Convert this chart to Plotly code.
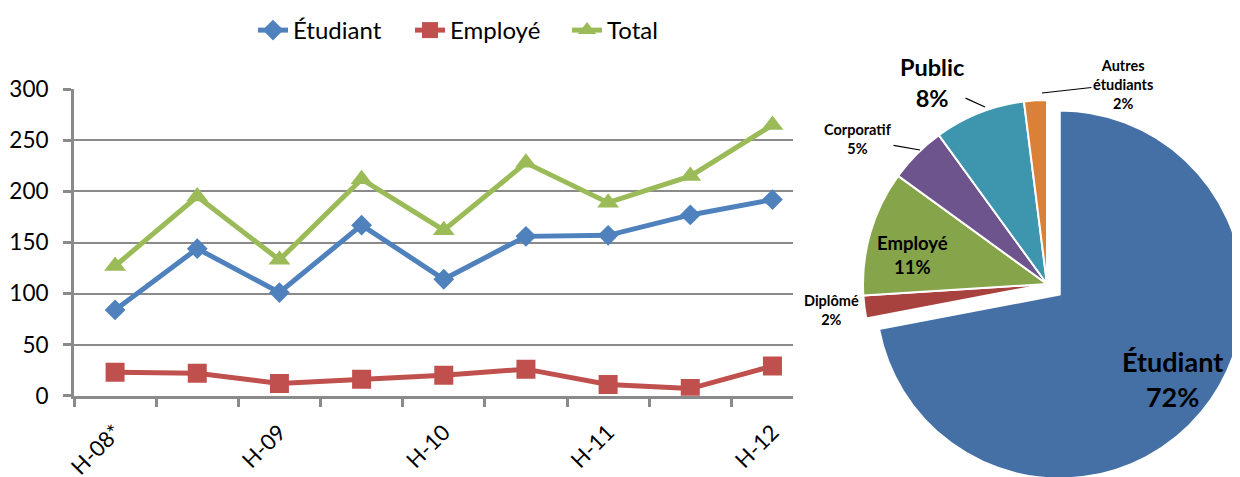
import plotly.graph_objects as go

# ---------------- data ----------------
tick_labels = ["H-08*", "", "H-09", "", "H-10", "", "H-11", "", "H-12"]
etudiant = [84, 144, 101, 167, 114, 156, 157, 177, 192]
employe = [23, 22, 12, 16, 20, 26, 11, 7, 29]
total = [127, 195, 133, 212, 162, 228, 189, 215, 265]
series_names = ["Étudiant", "Employé", "Total"]

pie_labels = ["Étudiant", "Diplômé", "Employé", "Corporatif", "Public", "Autres étudiants"]
pie_values = [72, 2, 11, 5, 8, 2]

# ---------------- styles ----------------
W, H = 1240, 477
OFF = 8  # page body margin offset
FONT = "Lato"
GRAY = "#8a8a8a"
line_colors = ["#4F81BD", "#C0504D", "#9BBB59"]
symbols = ["diamond", "square", "triangle-up"]
msizes = [16, 19, 19]
pie_colors = ["#4570A6", "#A8423F", "#86A44A", "#6E548D", "#3D96AE", "#DA8137"]


def px_x(p):
    return (p - OFF) / W


def px_y(p):
    return 1 - (p - OFF) / H


x_idx = list(range(len(tick_labels)))

fig = go.Figure()
for name, vals, col, sym, ms in zip(series_names, [etudiant, employe, total], line_colors, symbols, msizes):
    fig.add_trace(go.Scatter(
        x=x_idx, y=vals, name=name, mode="lines+markers",
        line=dict(color=col, width=5),
        marker=dict(symbol=sym, size=ms, color=col),
        hoverinfo="skip",
    ))

# pie geometry (centre of un-pulled pie, radius, in reference pixels)
pull = [0.09, 0, 0, 0, 0, 0]
pcx, pcy, pr = 1047, 284, 184
half = pr * (1 + max(pull))
fig.add_trace(go.Pie(
    labels=pie_labels, values=pie_values, sort=False, direction="clockwise", rotation=0,
    pull=pull, textinfo="none", hoverinfo="skip", showlegend=False,
    marker=dict(colors=pie_colors, line=dict(color="white", width=2)),
    domain=dict(x=[px_x(pcx - half), min(1.0, px_x(pcx + half))],
                y=[max(0.0, px_y(pcy + half)), px_y(pcy - half)]),
))

# axes (reference pixel positions)
x0_px, x1_px = 74, 793
y_top_px, y_bot_px = 89.3, 395.7
fig.update_layout(
    template="none",
    width=W, height=H,
    margin=dict(l=0, r=0, t=0, b=0, pad=0),
    paper_bgcolor="white", plot_bgcolor="white",
    font=dict(family=FONT, color="black"),
    xaxis=dict(
        automargin=False,
        domain=[px_x(x0_px), px_x(x1_px)],
        range=[-0.5, 8.25],
        tickmode="array", tickvals=x_idx, ticktext=tick_labels,
        tickangle=-45, ticks="", ticklabelstandoff=12,
        tickfont=dict(size=22, family=FONT, color="black"),
        showgrid=False, zeroline=False,
        showline=True, linecolor=GRAY, linewidth=3,
        minor=dict(tickmode="array", tickvals=[i - 0.5 for i in x_idx],
                   ticks="outside", ticklen=8, tickwidth=2.5, tickcolor=GRAY, showgrid=False),
    ),
    yaxis=dict(
        automargin=False,
        domain=[px_y(y_bot_px), px_y(y_top_px)],
        range=[0, 300], dtick=50, tick0=0, tickmode="linear",
        ticks="outside", ticklen=8, tickwidth=2.5, tickcolor=GRAY,
        ticklabelstandoff=10,
        tickfont=dict(size=22.5, family=FONT, color="black"),
        showgrid=True, gridcolor=GRAY, gridwidth=2,
        zeroline=False, showline=True, linecolor=GRAY, linewidth=3,
    ),
    legend=dict(
        orientation="h", x=px_x(253), xanchor="left", y=1.0, yanchor="top",
        font=dict(size=24, family=FONT, color="black"), bgcolor="rgba(0,0,0,0)",
        borderwidth=0, entrywidthmode="pixels", entrywidth=112, tracegroupgap=0,
    ),
)


# pie labels
def lab(i, size, px, py, ax=None, ay=None):
    name = pie_labels[i]
    if name == "Autres étudiants":
        name = name.replace(" ", "<br>")
    txt = f"<b>{name}</b><br><b>{pie_values[i]}%</b>"
    kw = dict(text=txt, xref="paper", yref="paper", font=dict(family=FONT, size=size, color="black"),
              align="center", x=px_x(px), y=px_y(py))
    if ax is None:
        kw.update(showarrow=False, xanchor="center", yanchor="middle")
    else:
        kw.update(showarrow=True, ax=ax, ay=ay, arrowhead=0,
                  arrowwidth=1.2, arrowcolor="black", standoff=0, startstandoff=0)
    fig.add_annotation(**kw)


lab(0, 27, 1172, 379)
lab(2, 18.5, 912, 255)
lab(1, 14.5, 831, 310)
lab(3, 14.5, 920, 150, ax=-62, ay=-11)
lab(4, 23.5, 985, 107, ax=-53, ay=-24)
lab(5, 14.5, 1042, 93, ax=81, ay=-9)

fig.write_html("out.html")
